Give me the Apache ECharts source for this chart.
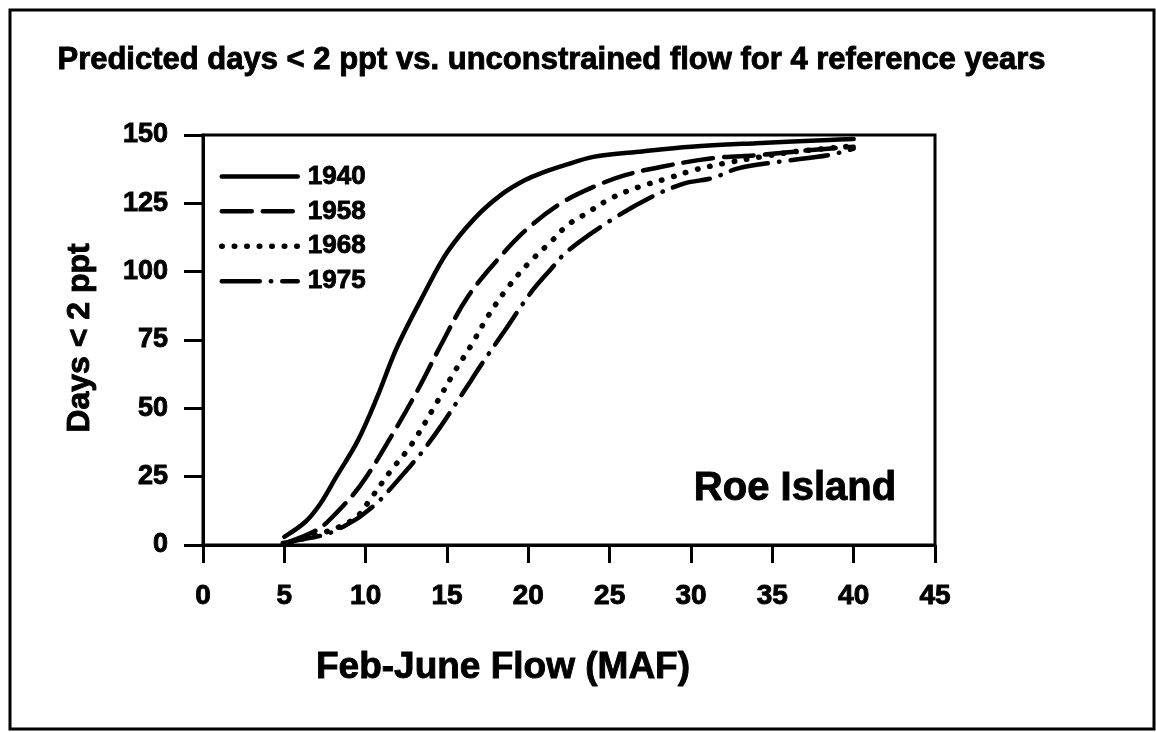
<!DOCTYPE html>
<html>
<head>
<meta charset="utf-8">
<script src="https://cdn.jsdelivr.net/npm/echarts@6/dist/echarts.min.js"></script>
<style>
html,body{margin:0;padding:0;background:#fff;}
#chart{width:1156px;height:732px;}
</style>
</head>
<body>
<div id="chart"></div>
<script>
// ---- data ----
const seriesNames = ['1940', '1958', '1968', '1975'];
const flow1940 = [5.0, 6.3, 7.2, 8.2, 9.5, 10.7, 11.9, 13.6, 15.0, 16.7, 18.3, 19.8, 21.0, 22.0, 24.0, 27.0, 30.0, 34.0, 38.5, 40.0];
const days1940 = [3, 8.5, 15, 25, 38, 54, 72, 92, 107, 119.5, 128, 133.5, 136.5, 138.5, 142, 144, 145.7, 147, 148.2, 148.5];
const flow1958 = [5.2, 7.0, 8.0, 9.7, 11.5, 13.2, 14.7, 16.3, 18.5, 20.0, 22.0, 24.0, 26.0, 28.2, 31.3, 34.3, 37.4, 40.0];
const days1958 = [1, 5.5, 10.5, 22, 39, 56.7, 74, 91, 107, 116, 125, 131, 135.4, 138.4, 141.5, 142.7, 144.5, 145.7];
const flow1968 = [5.4, 7.6, 8.6, 9.5, 10.2, 11.5, 12.8, 14.4, 15.4, 16.5, 17.5, 18.7, 20.0, 21.5, 22.4, 23.4, 25.1, 26.8, 28.6, 30.2, 32.1, 34.3, 36.4, 40.0];
const days1968 = [1, 4.9, 7.3, 10.5, 16, 26.8, 36.6, 52.4, 62.8, 73.2, 83.5, 93.9, 103, 111.6, 117, 120.7, 126.9, 131, 134.2, 137.2, 139.7, 142, 143.9, 146];
const flow1975 = [4.9, 6.6, 7.8, 9.4, 10.3, 10.9, 12.8, 13.4, 14.6, 16.5, 17.1, 18.5, 20.2, 21.4, 22.4, 25.1, 27.6, 29.6, 31.3, 32.9, 35.4, 38.5, 40.0];
const days1975 = [0.7, 2.6, 4.4, 9.4, 13.4, 16.5, 29.3, 33.5, 43.3, 60.4, 65.9, 78, 92.7, 101, 107.5, 118.9, 127.4, 132.3, 134.2, 137.8, 140.2, 142.7, 145];
const xTicks = [0, 5, 10, 15, 20, 25, 30, 35, 40, 45];
const yTicks = [0, 25, 50, 75, 100, 125, 150];
const titleText = 'Predicted days < 2 ppt vs. unconstrained flow for 4 reference years';
const xTitle = 'Feb-June Flow (MAF)';
const yTitle = 'Days < 2 ppt';
const siteLabel = 'Roe Island';

// ---- build ----
function pairs(xs, ys) { return xs.map((x, i) => [x, ys[i]]); }
const dashes = [null, [30, 11], [0.5, 12], [38, 11, 0.5, 11]];
const allData = [pairs(flow1940, days1940), pairs(flow1958, days1958), pairs(flow1968, days1968), pairs(flow1975, days1975)];
const FONT = 'Liberation Sans, Arial, sans-serif';
const heavy = {textBorderColor: '#000', textBorderWidth: 0.9};

const chart = echarts.init(document.getElementById('chart'), null, {renderer: 'canvas'});
chart.setOption({
  backgroundColor: '#fff',
  animation: false,
  grid: {left: 203, right: 221, top: 135, bottom: 187, show: true, borderColor: '#000', borderWidth: 3, backgroundColor: 'transparent'},
  xAxis: {
    type: 'value', min: xTicks[0], max: xTicks[xTicks.length - 1], interval: 5,
    axisLine: {show: true, lineStyle: {color: '#000', width: 3}},
    axisTick: {show: true, inside: false, length: 18, lineStyle: {color: '#000', width: 3}},
    axisLabel: Object.assign({margin: 37, color: '#000', fontFamily: FONT, fontWeight: 'bold', fontSize: 28}, heavy),
    splitLine: {show: false}
  },
  yAxis: {
    type: 'value', min: yTicks[0], max: yTicks[yTicks.length - 1], interval: 25,
    axisLine: {show: true, lineStyle: {color: '#000', width: 3}},
    axisTick: {show: true, inside: false, length: 19, lineStyle: {color: '#000', width: 3}},
    axisLabel: Object.assign({margin: 35, color: '#000', fontFamily: FONT, fontWeight: 'bold', fontSize: 27}, heavy),
    splitLine: {show: false}
  },
  legend: {
    orient: 'vertical', left: 214, top: 158, itemWidth: 76, itemHeight: 24, itemGap: 8,
    itemStyle: {opacity: 0},
    lineStyle: {width: 'inherit', type: 'inherit', cap: 'round'},
    textStyle: Object.assign({color: '#000', fontFamily: FONT, fontWeight: 'bold', fontSize: 26, padding: [0, 0, 0, 5]}, heavy),
    data: seriesNames
  },
  series: seriesNames.map((n, i) => ({
    name: n, type: 'line', data: allData[i], smooth: 0.35, showSymbol: false, symbol: 'none',
    lineStyle: {color: '#000', width: i === 2 ? 5.5 : 4.5, type: dashes[i] || 'solid', cap: 'round'},
    itemStyle: {color: '#000'}
  })),
  graphic: [
    {type: 'rect', shape: {x: 10, y: 10, width: 1144, height: 719}, style: {fill: 'none', stroke: '#000', lineWidth: 3}, silent: true},
    {type: 'text', left: 57, top: 45, style: Object.assign({text: titleText, fill: '#000', font: 'bold 31px ' + FONT, stroke: '#000', lineWidth: 0.9})},
    {type: 'text', x: 80, y: 338, rotation: Math.PI / 2, style: {text: yTitle, fill: '#000', font: 'bold 32px ' + FONT, align: 'center', verticalAlign: 'middle', stroke: '#000', lineWidth: 0.9}},
    {type: 'text', x: 503, y: 668, style: {text: xTitle, fill: '#000', font: 'bold 37px ' + FONT, align: 'center', verticalAlign: 'middle', stroke: '#000', lineWidth: 0.9}},
    {type: 'text', x: 795, y: 489, style: {text: siteLabel, fill: '#000', font: 'bold 40px ' + FONT, align: 'center', verticalAlign: 'middle', stroke: '#000', lineWidth: 0.9}}
  ]
});
</script>
</body>
</html>
